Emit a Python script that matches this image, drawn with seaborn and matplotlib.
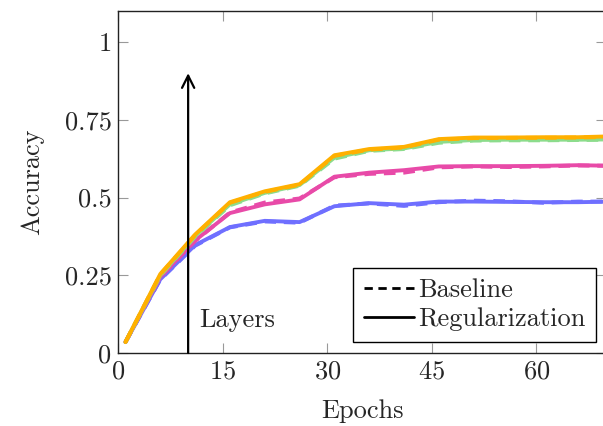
import numpy as np
import pandas as pd
import matplotlib
matplotlib.use("Agg")
import matplotlib.pyplot as plt
from matplotlib.lines import Line2D
import seaborn as sns

sns.set_theme(style="ticks")
plt.rcParams['font.family'] = ['cmr10', 'DejaVu Serif']
plt.rcParams['axes.formatter.use_mathtext'] = True
plt.rcParams['mathtext.fontset'] = 'cm'

epochs = [1, 6, 11, 16, 21, 26, 31, 36, 41, 46, 51, 56, 61, 66, 71]

# regularization (solid)
blue_reg = [0.035, 0.237, 0.347, 0.405, 0.425, 0.421, 0.472, 0.482, 0.477, 0.487, 0.487, 0.486, 0.485, 0.485, 0.487]
magenta_reg = [0.035, 0.245, 0.362, 0.450, 0.478, 0.494, 0.567, 0.580, 0.588, 0.600, 0.601, 0.601, 0.602, 0.604, 0.602]
green_reg = [0.035, 0.250, 0.376, 0.478, 0.515, 0.540, 0.628, 0.652, 0.658, 0.679, 0.685, 0.686, 0.686, 0.686, 0.687]
orange_reg = [0.035, 0.254, 0.381, 0.485, 0.520, 0.543, 0.636, 0.656, 0.663, 0.688, 0.693, 0.693, 0.694, 0.694, 0.697]

# baseline (dashed)
blue_base = [0.035, 0.236, 0.345, 0.404, 0.423, 0.419, 0.474, 0.481, 0.473, 0.485, 0.490, 0.488, 0.483, 0.487, 0.487]
magenta_base = [0.035, 0.244, 0.360, 0.452, 0.484, 0.497, 0.565, 0.576, 0.580, 0.597, 0.600, 0.598, 0.600, 0.603, 0.602]
green_base = [0.035, 0.249, 0.374, 0.475, 0.513, 0.538, 0.625, 0.650, 0.656, 0.676, 0.683, 0.684, 0.684, 0.685, 0.686]
orange_base = [0.035, 0.253, 0.379, 0.483, 0.518, 0.541, 0.634, 0.654, 0.661, 0.686, 0.691, 0.692, 0.692, 0.693, 0.695]

colors = {"blue": "#6f6fff", "magenta": "#e84aa8", "green": "#8cdc8c", "orange": "#ffb000"}
series = [("blue", blue_base, blue_reg), ("magenta", magenta_base, magenta_reg),
          ("green", green_base, green_reg), ("orange", orange_base, orange_reg)]

fs = 19

fig = plt.figure(figsize=(6.03, 4.26), dpi=100)
ax = fig.add_axes([0.1965, 0.1714, 0.8085, 0.8028])

for name, base, reg in series:
    df = pd.DataFrame({"Epochs": epochs, "base": base, "reg": reg})
    sns.lineplot(data=df, x="Epochs", y="base", ax=ax, color=colors[name],
                 lw=2.8, linestyle=(0, (3, 2)), legend=False)
    sns.lineplot(data=df, x="Epochs", y="reg", ax=ax, color=colors[name],
                 lw=2.8, legend=False)

ax.set_xlim(0, 70)
ax.set_ylim(0, 1.1)
ax.set_xticks([0, 15, 30, 45, 60])
ax.set_yticks([0, 0.25, 0.5, 0.75, 1])
ax.set_yticklabels(["0", "0.25", "0.5", "0.75", "1"])
ax.tick_params(direction="in", length=7, width=0.8, color="#999999",
               labelsize=fs, top=True, right=True, pad=5)
for sp in ax.spines.values():
    sp.set_color("#222222")
    sp.set_linewidth(1.0)

ax.set_xlabel("Epochs", fontsize=fs, labelpad=11)
ax.set_ylabel("Accuracy", fontsize=fs, labelpad=15)

ax.annotate("", xy=(10, 0.9), xytext=(10, 0),
            arrowprops=dict(arrowstyle="->", lw=1.6, color="black",
                            mutation_scale=22, shrinkA=0, shrinkB=0))
ax.text(11.6, 0.083, "Layers", fontsize=fs, va="baseline", ha="left")

handles = [Line2D([0], [0], color="black", lw=2, linestyle=(0, (3, 2))),
           Line2D([0], [0], color="black", lw=2)]
leg = ax.legend(handles, ["Baseline", "Regularization"], loc="lower right",
                bbox_to_anchor=(0.9795, 0.032), fontsize=fs, frameon=True,
                fancybox=False, edgecolor="black", framealpha=1,
                handlelength=1.9, handletextpad=0.15, borderpad=0.4,
                labelspacing=0.22, borderaxespad=0)
leg.get_frame().set_linewidth(1.0)

fig.savefig("out.png", dpi=100)
